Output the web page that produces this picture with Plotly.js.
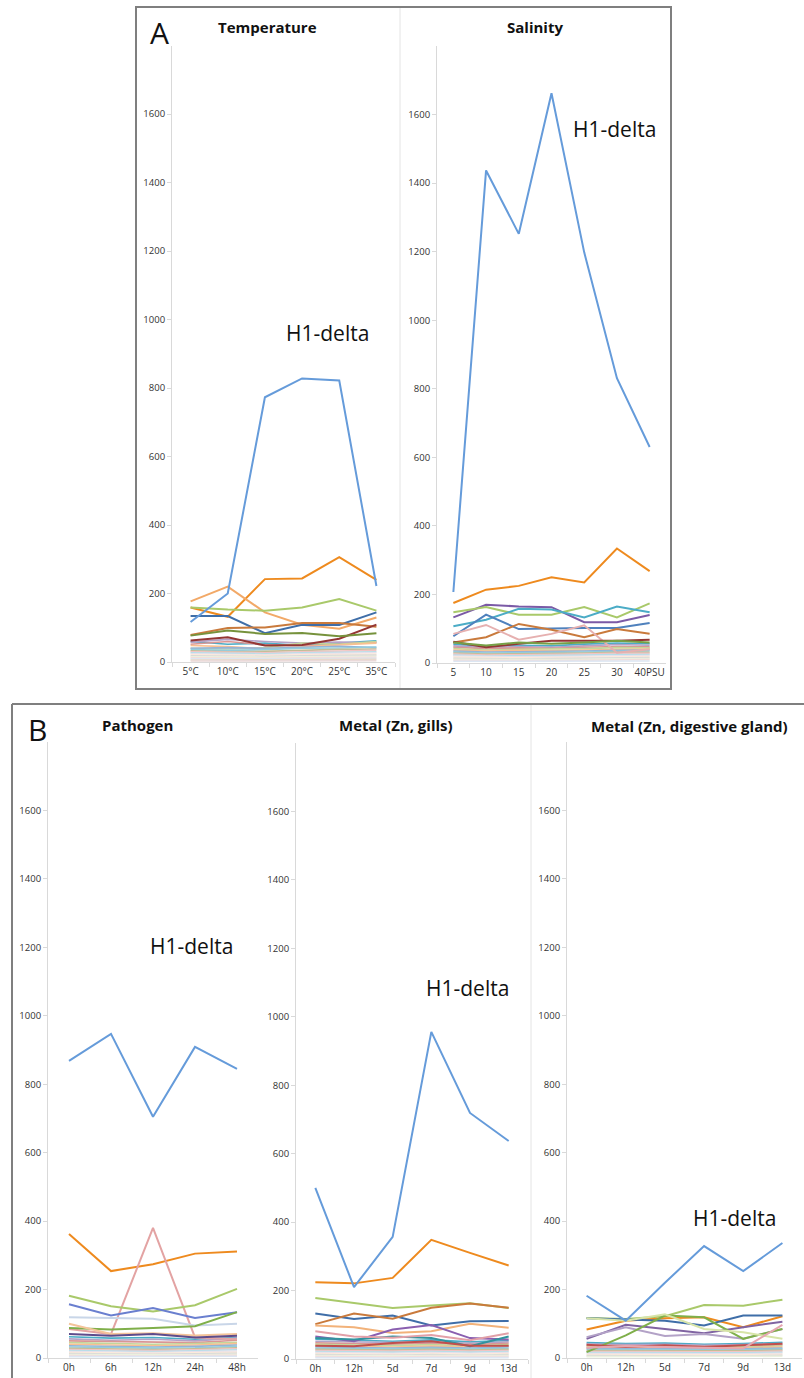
<!DOCTYPE html>
<html>
<head>
<meta charset="utf-8">
<script src="https://cdn.plot.ly/plotly-3.0.1.min.js"></script>
<style>html,body{margin:0;padding:0;background:#fff}#chart{width:804px;height:1378px}</style>
</head>
<body>
<div id="chart"></div>
<script>
// ---------------- DATA ----------------
const tempCats = ['5°C', '10°C', '15°C', '20°C', '25°C', '35°C'];
const tempH1delta = [117, 200, 773, 828, 822, 222];
const tempMain = [
  [159, 132, 242, 244, 306, 240],
  [177, 220, 145, 109, 97, 130],
  [159, 153, 150, 159, 184, 150],
  [134, 134, 84, 109, 108, 145],
  [79, 99, 101, 114, 114, 103],
  [63, 72, 48, 50, 68, 109],
  [77, 92, 82, 85, 75, 84]
];
const tempOthers = [
  [60, 52, 55, 48, 55, 62], [58, 66, 60, 55, 58, 56], [52, 60, 50, 47, 52, 58],
  [40, 38, 42, 55, 52, 60], [48, 45, 38, 45, 50, 55], [40, 42, 40, 44, 46, 42],
  [36, 34, 36, 40, 41, 44], [33, 30, 31, 35, 37, 38], [30, 28, 27, 30, 33, 34],
  [27, 26, 24, 27, 29, 30], [24, 22, 21, 24, 25, 27], [21, 20, 19, 21, 22, 23],
  [18, 17, 16, 18, 19, 20], [15, 14, 14, 15, 16, 17], [12, 11, 11, 12, 13, 14],
  [9, 9, 8, 9, 10, 11], [6, 6, 6, 7, 7, 8], [3, 3, 3, 4, 4, 4]
];

const salCats = ['5', '10', '15', '20', '25', '30', '40PSU'];
const salH1delta = [207, 1437, 1252, 1662, 1198, 831, 630];
const salMain = [
  [175, 214, 225, 250, 235, 334, 268],
  [133, 170, 165, 163, 119, 119, 140],
  [148, 163, 141, 141, 163, 133, 174],
  [107, 126, 158, 156, 133, 165, 148],
  [78, 141, 99, 101, 102, 102, 117],
  [60, 75, 114, 97, 75, 99, 85],
  [85, 111, 68, 85, 110, 30, 40],
  [62, 46, 56, 65, 65, 65, 68],
  [60, 51, 60, 56, 60, 65, 60]
];
const salOthers = [
  [55, 48, 52, 50, 55, 58, 56], [50, 45, 48, 46, 50, 54, 52], [46, 42, 44, 43, 46, 48, 47],
  [42, 38, 40, 40, 42, 45, 44], [38, 35, 37, 36, 38, 40, 41], [35, 32, 33, 33, 35, 37, 38],
  [32, 29, 30, 30, 32, 34, 35], [29, 26, 27, 27, 29, 31, 31], [26, 23, 24, 24, 26, 28, 28],
  [23, 20, 21, 21, 23, 25, 25], [20, 18, 18, 19, 20, 22, 22], [17, 15, 15, 16, 17, 19, 19],
  [14, 12, 12, 13, 14, 16, 16], [11, 10, 9, 10, 11, 12, 13], [8, 7, 7, 7, 8, 9, 10],
  [5, 5, 4, 5, 5, 6, 6]
];

const pathCats = ['0h', '6h', '12h', '24h', '48h'];
const pathH1delta = [868, 947, 705, 909, 845];
const pathMain = [
  [362, 254, 274, 305, 311],
  [85, 70, 380, 60, 55],
  [182, 151, 136, 154, 202],
  [157, 124, 146, 117, 134],
  [119, 117, 115, 95, 100],
  [88, 83, 88, 93, 134],
  [100, 70, 72, 66, 70],
  [70, 65, 70, 60, 65]
];
const pathOthers = [
  [62, 58, 60, 55, 60], [56, 52, 55, 50, 58], [50, 48, 46, 45, 52],
  [45, 42, 40, 42, 46], [40, 38, 36, 38, 42], [36, 34, 32, 34, 38],
  [32, 30, 29, 30, 34], [28, 26, 25, 27, 30], [25, 23, 22, 24, 27],
  [22, 20, 19, 21, 24], [19, 17, 16, 18, 20], [16, 14, 14, 15, 17],
  [13, 11, 11, 12, 14], [10, 9, 8, 9, 11], [7, 6, 6, 7, 8], [4, 4, 3, 4, 5]
];

const gillCats = ['0h', '12h', '5d', '7d', '9d', '13d'];
const gillH1delta = [500, 210, 357, 956, 719, 637];
const gillMain = [
  [224, 221, 237, 348, 310, 273],
  [178, 164, 149, 156, 163, 149],
  [133, 117, 127, 98, 110, 111],
  [102, 133, 118, 150, 162, 150],
  [98, 93, 76, 81, 103, 91],
  [66, 52, 86, 99, 61, 57],
  [61, 57, 66, 61, 37, 66],
  [81, 66, 62, 70, 55, 75],
  [39, 37, 47, 52, 39, 39]
];
const gillOthers = [
  [58, 55, 52, 56, 50, 54], [52, 50, 48, 50, 46, 50], [47, 45, 43, 46, 42, 46],
  [43, 41, 39, 42, 38, 42], [39, 37, 35, 38, 35, 38], [35, 33, 32, 34, 32, 35],
  [31, 30, 29, 31, 29, 31], [28, 27, 26, 28, 26, 28], [25, 24, 23, 25, 23, 25],
  [22, 21, 20, 22, 20, 22], [19, 18, 17, 19, 17, 19], [16, 15, 14, 16, 14, 16],
  [13, 12, 11, 13, 11, 13], [10, 9, 9, 10, 9, 10], [7, 6, 6, 7, 6, 7], [4, 3, 3, 4, 3, 4]
];

const digCats = ['0h', '12h', '5d', '7d', '9d', '13d'];
const digH1delta = [182, 109, 220, 327, 254, 336];
const digMain = [
  [117, 114, 122, 155, 153, 170],
  [83, 109, 116, 119, 90, 122],
  [116, 112, 109, 95, 124, 124],
  [56, 97, 85, 72, 90, 106],
  [61, 90, 64, 70, 56, 85],
  [17, 66, 124, 119, 56, 85],
  [116, 109, 128, 85, 75, 56],
  [39, 32, 37, 32, 37, 42],
  [30, 35, 32, 30, 28, 97]
];
const digOthers = [
  [45, 42, 44, 40, 42, 46], [41, 39, 40, 37, 39, 42], [37, 36, 37, 34, 36, 38],
  [34, 33, 34, 31, 33, 35], [31, 30, 31, 29, 30, 32], [28, 27, 28, 26, 27, 29],
  [25, 24, 25, 23, 24, 26], [22, 21, 22, 21, 21, 23], [19, 18, 19, 18, 18, 20],
  [16, 15, 16, 15, 15, 17], [13, 12, 13, 12, 12, 14], [10, 9, 10, 9, 9, 11],
  [7, 6, 7, 6, 6, 8], [4, 4, 4, 4, 4, 5]
];

const yTicks = [0, 200, 400, 600, 800, 1000, 1200, 1400, 1600];

// ---------------- STYLE ----------------
const H1COLOR = '#659BDA';
const tempColors = ['#EE8A1E', '#F2A968', '#A9C96A', '#3F6EA8', '#C97A3C', '#943634', '#76923C'];
const salColors = ['#EE8A1E', '#7B5AA6', '#A9C96A', '#4BACC6', '#4F81BD', '#C97A3C', '#E6B0B0', '#943634', '#77A046'];
const pathColors = ['#EE8A1E', '#E3A3A3', '#A9C96A', '#6A7FCF', '#C9D6E8', '#7FAF4A', '#F4C49A', '#5E4B8B'];
const gillColors = ['#EE8A1E', '#A9C96A', '#3F6EA8', '#C97A3C', '#F2B27A', '#8A5FB0', '#31939E', '#E2A0A8', '#C0504D'];
const digColors = ['#A9C96A', '#EE8A1E', '#3F6EA8', '#8064A2', '#B3A2C7', '#7FAF4A', '#D7E4A8', '#C0504D', '#E6A6B0'];
const otherColors = ['#4BACC6', '#B3A2C7', '#D99694', '#C3D69B', '#FAC090', '#95B3D7', '#93CDDD',
  '#C4BD97', '#F2C4C4', '#B7DEE8', '#E6E0EC', '#FDEADA', '#D9D9D9', '#EBF1DE', '#F2DCDB',
  '#DCE6F2', '#E8D8C8', '#EAD9D9'];

const W = 804, H = 1378;
const px = x => x / W;
const py = y => 1 - y / H;

const panels = [
  {cats: tempCats, h1: tempH1delta, main: tempMain, others: tempOthers, colors: tempColors,
   x: [172, 395], y: [662, 45.5], label: [327, 333]},
  {cats: salCats, h1: salH1delta, main: salMain, others: salOthers, colors: salColors,
   x: [437, 666], y: [663, 46], label: [614, 129]},
  {cats: pathCats, h1: pathH1delta, main: pathMain, others: pathOthers, colors: pathColors,
   x: [48, 258], y: [1358, 742], label: [191, 946]},
  {cats: gillCats, h1: gillH1delta, main: gillMain, others: gillOthers, colors: gillColors,
   x: [296, 528], y: [1359, 743], label: [467, 988]},
  {cats: digCats, h1: digH1delta, main: digMain, others: digOthers, colors: digColors,
   x: [567, 802], y: [1358, 742], label: [734, 1218]}
];

const traces = [];
const layout = {
  width: W, height: H,
  margin: {l: 0, r: 0, t: 0, b: 0},
  paper_bgcolor: '#fff', plot_bgcolor: 'rgba(0,0,0,0)',
  showlegend: false,
  font: {family: 'Open Sans, sans-serif', color: '#333'},
  annotations: [], shapes: []
};

panels.forEach((p, i) => {
  const n = i === 0 ? '' : String(i + 1);
  const xa = 'x' + n, ya = 'y' + n;
  p.others.forEach((vals, k) => {
    traces.push({x: p.cats, y: vals, type: 'scatter', mode: 'lines', xaxis: xa, yaxis: ya,
      line: {color: otherColors[k % otherColors.length], width: 1.6}, hoverinfo: 'skip'});
  });
  p.main.forEach((vals, k) => {
    traces.push({x: p.cats, y: vals, type: 'scatter', mode: 'lines', xaxis: xa, yaxis: ya,
      line: {color: p.colors[k], width: 2}});
  });
  traces.push({x: p.cats, y: p.h1, type: 'scatter', mode: 'lines', xaxis: xa, yaxis: ya,
    name: 'H1-delta', line: {color: H1COLOR, width: 2}});

  layout['xaxis' + n] = {
    type: 'category', domain: [px(p.x[0]), px(p.x[1])], anchor: ya,
    range: [-0.5, p.cats.length - 0.5],
    showgrid: false, zeroline: false, showline: true, linecolor: '#D9D9D9', linewidth: 1,
    ticks: 'outside', tickson: 'boundaries', ticklen: 4, tickcolor: '#D9D9D9',
    tickangle: 0, automargin: false,
    tickfont: {size: 10, color: '#333', family: 'Open Sans, sans-serif'}, fixedrange: true
  };
  layout['yaxis' + n] = {
    domain: [py(p.y[0]), py(p.y[1])], anchor: xa, range: [0, 1800],
    tickvals: yTicks, ticktext: yTicks.map(String),
    showgrid: false, zeroline: false, showline: true, linecolor: '#D9D9D9', linewidth: 1,
    ticks: 'outside', ticklen: 4, tickcolor: '#D9D9D9', automargin: false,
    tickfont: {size: 9.5, color: '#333', family: 'Open Sans, sans-serif'}, fixedrange: true
  };
  layout.annotations.push({xref: 'paper', yref: 'paper', x: px(p.label[0]), y: py(p.label[1]),
    text: 'H1-delta', showarrow: false, xanchor: 'center', yanchor: 'middle',
    font: {size: 21, color: '#111', family: 'Open Sans, sans-serif'}});
});

const titles = [
  ['Temperature', 267, 27], ['Salinity', 535, 27], ['Pathogen', 137, 725],
  ['Metal (Zn, gills)', 396, 725], ['Metal (Zn, digestive gland)', 689, 726]
];
titles.forEach(t => layout.annotations.push({xref: 'paper', yref: 'paper', x: px(t[1]), y: py(t[2]),
  text: '<b>' + t[0] + '</b>', showarrow: false, xanchor: 'center', yanchor: 'middle',
  font: {size: 15, color: '#111', family: 'Open Sans, sans-serif'}}));

[['A', 159, 32], ['B', 37, 729]].forEach(t => layout.annotations.push({xref: 'paper', yref: 'paper',
  x: px(t[1]), y: py(t[2]), text: t[0], showarrow: false, xanchor: 'center', yanchor: 'middle',
  font: {size: 30, color: '#111', family: 'Open Sans, sans-serif'}}));

const line = (x0, y0, x1, y1, color, width) => ({type: 'line', xref: 'paper', yref: 'paper',
  x0: px(x0), y0: py(y0), x1: px(x1), y1: py(y1), line: {color: color, width: width}});
layout.shapes.push({type: 'rect', xref: 'paper', yref: 'paper', x0: px(136), y0: py(689), x1: px(671), y1: py(7),
  line: {color: '#7F7F7F', width: 2}});
layout.shapes.push(line(400, 8, 400, 688, '#E4E4E4', 1));
layout.shapes.push(line(12, 704, 804, 704, '#7F7F7F', 2));
layout.shapes.push(line(12, 704, 12, 1378, '#7F7F7F', 2));
layout.shapes.push(line(531, 705, 531, 1378, '#E4E4E4', 1));

Plotly.newPlot('chart', traces, layout, {displayModeBar: false, staticPlot: true});
</script>
</body>
</html>
